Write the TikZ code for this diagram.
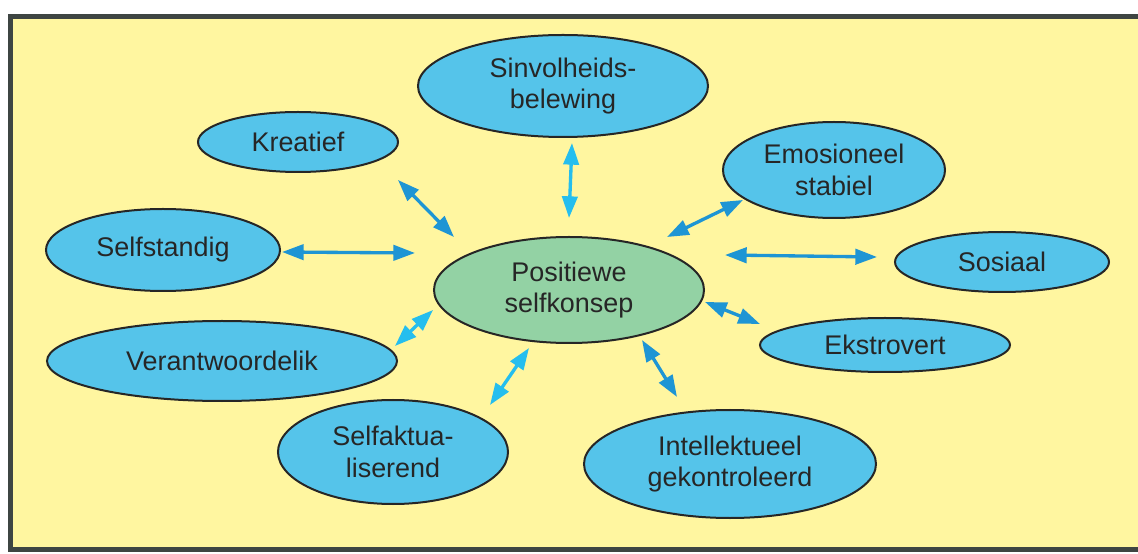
\documentclass[tikz,border=0pt]{standalone}
\usepackage{fontspec}
\setmainfont{Liberation Sans}
\usetikzlibrary{shapes.geometric,arrows.meta}

\definecolor{paper}{HTML}{FFF6A0}
\definecolor{framegray}{HTML}{3E4542}
\definecolor{bubblefill}{HTML}{55C4EA}
\definecolor{corefill}{HTML}{93D2A4}
\definecolor{darklink}{HTML}{1E95D4}
\definecolor{lightlink}{HTML}{25BEEE}

\tikzset{
  bubble/.style={ellipse,draw=black!85,line width=0.6mm,fill=bubblefill,inner sep=0pt,
    align=center,text=black!85,font=\fontsize{23}{27}\selectfont},
  link/.style={{Triangle[length=6.5mm,width=4.6mm]}-{Triangle[length=6.5mm,width=4.6mm]},
    line width=1mm,draw=darklink},
}

\begin{document}
\begin{tikzpicture}[x=0.3mm,y=-0.3mm]

        \useasboundingbox (0,0) rectangle (1138,554);
        \fill[white] (0,0) rectangle (1138,554);
        \fill[paper] (10,17) rectangle (1138,549);
        \draw[framegray,line width=1.5mm] (1138,17) -- (10,17) -- (10,549) -- (1138,549);

        \node[bubble,minimum width=87mm,minimum height=30.6mm] (sinv) at (563,86) {Sinvolheids-\\belewing};
        \node[bubble,minimum width=60mm,minimum height=18mm] (kreat) at (298,142) {Kreatief};
        \node[bubble,minimum width=66.6mm,minimum height=28.8mm] (emos) at (834,170) {Emosioneel\\stabiel};
        \node[bubble,minimum width=70.2mm,minimum height=24.6mm] (selfst) at (163,250) {Selfstandig};
        \node[bubble,fill=corefill,minimum width=81mm,minimum height=31.8mm] (pos) at (569,290) {Positiewe\\selfkonsep};
        \node[bubble,minimum width=64.2mm,minimum height=18mm] (sos) at (1002,262) {Sosiaal};
        \node[bubble,minimum width=75mm,minimum height=16.2mm] (ekstr) at (885,345) {Ekstrovert};
        \node[bubble,minimum width=105mm,minimum height=24mm] (verant) at (222,361) {Verantwoordelik};
        \node[bubble,minimum width=69mm,minimum height=31.2mm] (selfakt) at (393,452) {Selfaktua-\\liserend};
        \node[bubble,minimum width=87.6mm,minimum height=32.4mm] (intel) at (730,464) {Intellektueel\\gekontroleerd};

        \coordinate (sinv-a)    at (572,143);
        \coordinate (sinv-b)    at (569,218);
        \coordinate (kreat-a)   at (398,180);
        \coordinate (kreat-b)   at (454,237);
        \coordinate (emos-a)    at (743,200);
        \coordinate (emos-b)    at (667,237);
        \coordinate (selfst-a)  at (282,252);
        \coordinate (selfst-b)  at (415,253);
        \coordinate (sos-a)     at (877,257);
        \coordinate (sos-b)     at (725,255);
        \coordinate (ekstr-a)   at (760,324);
        \coordinate (ekstr-b)   at (705,302);
        \coordinate (verant-a)  at (395,346);
        \coordinate (verant-b)  at (433,310);
        \coordinate (selfakt-a) at (490,405);
        \coordinate (selfakt-b) at (529,348);
        \coordinate (intel-a)   at (677,397);
        \coordinate (intel-b)   at (642,340);

        \draw[link,draw=lightlink] (sinv-a) -- (sinv-b);
        \draw[link] (kreat-a) -- (kreat-b);
        \draw[link] (emos-a) -- (emos-b);
        \draw[link] (selfst-a) -- (selfst-b);
        \draw[link] (sos-a) -- (sos-b);
        \draw[link] (ekstr-a) -- (ekstr-b);
        \draw[link,draw=lightlink] (verant-a) -- (verant-b);
        \draw[link,draw=lightlink] (selfakt-a) -- (selfakt-b);
        \draw[link] (intel-a) -- (intel-b);

\end{tikzpicture}
\end{document}
